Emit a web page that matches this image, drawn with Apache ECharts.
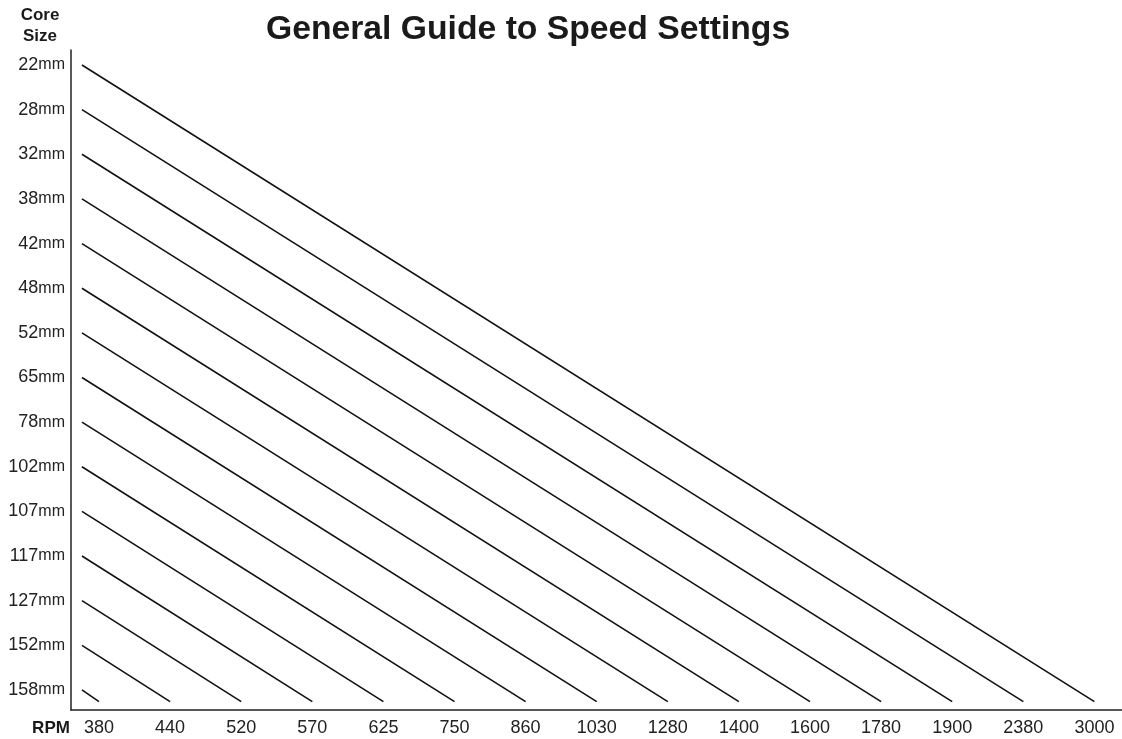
<!DOCTYPE html>
<html><head><meta charset="utf-8">
<script src="https://cdn.jsdelivr.net/npm/echarts@6/dist/echarts.min.js"></script>
<style>html,body{margin:0;padding:0;background:#fff}#c{width:1122px;height:739px}</style>
</head><body><div id="c"></div>
<script>
// Core sizes (mm), top to bottom
const coreSizes = ['22','28','32','38','42','48','52','65','78','102','107','117','127','152','158'];
// RPM tick labels, left to right
const rpmLabels = ['380','440','520','570','625','750','860','1030','1280','1400','1600','1780','1900','2380','3000'];
// Recommended RPM for each core size (same order as coreSizes)
const speedForSize = ['3000','2380','1900','1780','1600','1400','1280','1030','860','750','625','570','520','440','380'];

// layout constants (axis units)
const LINE_START_X = -0.24;
const LINE_END_Y = 14.26;
const idx = n => Array.from({length: n}, (_, i) => i);

const FONT = 'Liberation Sans, Arial, Helvetica, sans-serif';
const chart = echarts.init(document.getElementById('c'), null, {renderer: 'canvas'});

const series = coreSizes.map((s, i) => ({
  type: 'line',
  name: s + 'mm',
  data: [[LINE_START_X, i], [rpmLabels.indexOf(speedForSize[i]), LINE_END_Y]],
  symbol: 'none',
  silent: true,
  lineStyle: {color: '#111', width: 1.6},
}));

chart.setOption({
  animation: false,
  backgroundColor: '#fff',
  grid: {left: 71, right: 0, top: 50, bottom: 29, containLabel: false},
  title: {
    text: 'General Guide to Speed Settings',
    left: 261, top: 8,
    textStyle: {fontFamily: FONT, fontWeight: 'bold', fontSize: 33.7, color: '#1a1a1a'}
  },
  graphic: [
    {type: 'text', x: 40, y: 26, style: {text: 'Core\nSize', align: 'center', verticalAlign: 'middle',
      font: 'bold 17px ' + FONT, lineHeight: 21, fill: '#1a1a1a'}},
    {type: 'text', x: 51, y: 728, style: {text: 'RPM', align: 'center', verticalAlign: 'middle',
      font: 'bold 17px ' + FONT, fill: '#1a1a1a'}}
  ],
  xAxis: {
    type: 'value', min: -0.394, max: 14.388,
    axisLine: {show: true, onZero: false, lineStyle: {color: '#222', width: 1.5}},
    axisTick: {show: false},
    splitLine: {show: false},
    axisLabel: {
      customValues: idx(rpmLabels.length),
      formatter: v => rpmLabels[Math.round(v)],
      fontFamily: FONT, fontSize: 18, color: '#222', margin: 9
    }
  },
  yAxis: {
    type: 'value', inverse: true, min: -0.336, max: 14.449,
    axisLine: {show: true, onZero: false, lineStyle: {color: '#222', width: 1.5}},
    axisTick: {show: false},
    splitLine: {show: false},
    axisLabel: {
      customValues: idx(coreSizes.length),
      formatter: v => '{a|' + coreSizes[Math.round(v)] + '}{b|mm}',
      margin: 6,
      rich: {
        a: {fontFamily: FONT, fontSize: 18, color: '#222'},
        b: {fontFamily: FONT, fontSize: 16, color: '#222'}
      }
    }
  },
  series: series
});
</script>
</body></html>
